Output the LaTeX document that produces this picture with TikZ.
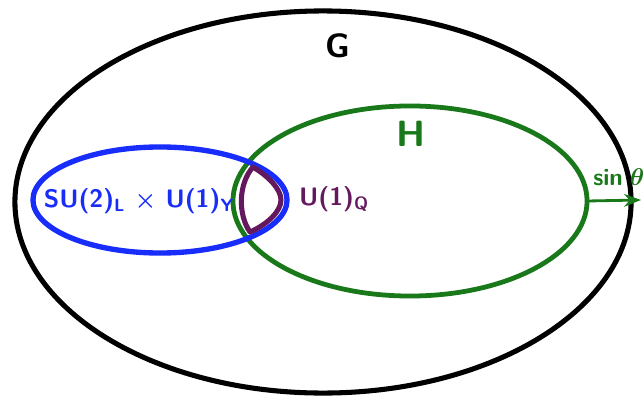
\documentclass[tikz,border=0pt]{standalone}
\usepackage{amsmath}
\usetikzlibrary{positioning}
\usetikzlibrary{arrows.meta}
\usetikzlibrary{shapes.geometric}
\definecolor{groupblue}{RGB}{25,45,250}
\definecolor{groupgreen}{RGB}{25,120,25}
\definecolor{grouppurple}{RGB}{100,25,95}

\begin{document}
\begin{tikzpicture}[
        x=0.025cm, y=-0.025cm,
        >=Stealth,
        setnode/.style={ellipse, draw, inner sep=0pt, outer sep=0pt},
        setlabel/.style={font=\sffamily\bfseries, inner sep=0pt}
    ]

        \useasboundingbox (0,0) rectangle (644,401);

        \node [setnode, line width=3.6pt, minimum width=15.4cm, minimum height=9.55cm] (SetG) at (323,202) {};
        \node [setnode, groupgreen, line width=3.4pt, minimum width=8.85cm, minimum height=4.75cm] (SetH) at (410,201) {};
        \node [setnode, groupblue, line width=3.8pt, minimum width=6.35cm, minimum height=2.65cm] (SetSM) at (160,200) {};

        \draw [grouppurple, line width=3.6pt, line join=round] (253,167) .. controls (268,176) and (281,189) .. (281,200) .. controls (281,211) and (268,224) .. (250,232) .. controls (238,215) and (238,184) .. cycle;

        \node [setlabel, font=\sffamily\bfseries\fontsize{24}{28}\selectfont] (LabelG) at (338,46) {G};
        \node [setlabel, groupgreen, font=\sffamily\bfseries\fontsize{26}{30}\selectfont] (LabelH) at (411,134) {H};
        \node [setlabel, groupblue, font=\sffamily\bfseries\fontsize{18}{21}\selectfont] (LabelSM) at (139,201) {SU(2)\textsubscript{L} $\boldsymbol{\times}$ U(1)\textsubscript{Y}};
        \node [setlabel, grouppurple, font=\sffamily\bfseries\fontsize{18}{21}\selectfont] (LabelQ) at (334,199) {U(1)\textsubscript{Q}};
        \node [setlabel, groupgreen, font=\sffamily\bfseries\fontsize{17}{20}\selectfont, anchor=base west] (LabelAngle) at (593,185) {sin\hspace{5pt}{\fontsize{16}{18}\selectfont$\boldsymbol{\theta}$}};

        \coordinate (ArrowEnd) at (641,200);
        \draw [->, groupgreen, line width=2pt] (SetH.east) -- (ArrowEnd);

    \end{tikzpicture}
\end{document}
